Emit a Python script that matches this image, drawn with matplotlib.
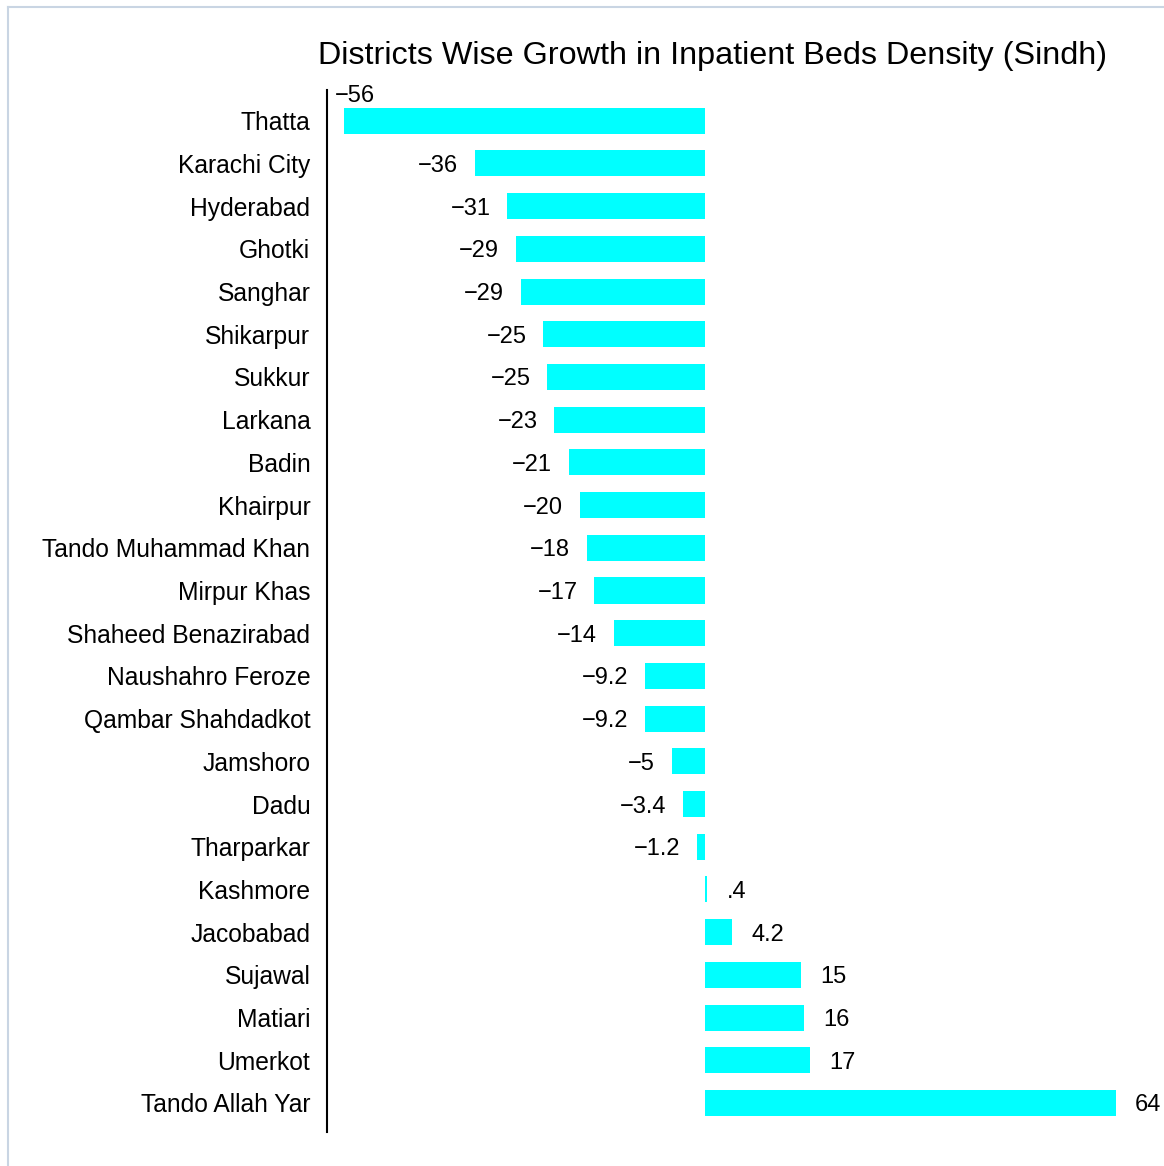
import matplotlib
matplotlib.use("Agg")
import matplotlib.pyplot as plt
from matplotlib.lines import Line2D

districts = ["Thatta", "Karachi City", "Hyderabad", "Ghotki", "Sanghar", "Shikarpur",
             "Sukkur", "Larkana", "Badin", "Khairpur", "Tando Muhammad Khan",
             "Mirpur Khas", "Shaheed Benazirabad", "Naushahro Feroze",
             "Qambar Shahdadkot", "Jamshoro", "Dadu", "Tharparkar", "Kashmore",
             "Jacobabad", "Sujawal", "Matiari", "Umerkot", "Tando Allah Yar"]
growth = [-56.0, -35.7, -30.6, -29.3, -28.5, -25.0, -24.4, -23.3, -21.1, -19.4,
          -18.3, -17.1, -14.1, -9.2, -9.2, -5.1, -3.4, -1.2, 0.4, 4.2, 14.9,
          15.4, 16.4, 63.8]
value_labels = ["\u221256", "\u221236", "\u221231", "\u221229", "\u221229", "\u221225",
                "\u221225", "\u221223", "\u221221", "\u221220", "\u221218", "\u221217",
                "\u221214", "\u22129.2", "\u22129.2", "\u22125", "\u22123.4", "\u22121.2",
                ".4", "4.2", "15", "16", "17", "64"]
title = "Districts Wise Growth in Inpatient Beds Density (Sindh)"

plt.rcParams['font.family'] = ['Liberation Sans', 'DejaVu Sans']

W, H = 1164, 1166
fig = plt.figure(figsize=(W / 100, H / 100), dpi=100)
ax = fig.add_axes([327 / W, 1 - 1132 / H, (1162 - 327) / W, (1132 - 90) / H])

ypos = list(range(len(districts)))
ax.barh(ypos, growth, height=0.61, color="#00ffff", edgecolor="none")

xmin, xmax = -58.6, 71.0
ax.set_xlim(xmin, xmax)
ax.set_ylim(23.68, -0.72)

for y, v, lab in zip(ypos, growth, value_labels):
    if v < 0:
        if v < -50:
            ax.annotate(lab, xy=(xmin, y - 0.44), xytext=(6, 0), textcoords="offset points",
                        ha="left", va="baseline", fontsize=17, annotation_clip=False)
        else:
            ax.annotate(lab, xy=(v, y), xytext=(-12, 0), textcoords="offset points",
                        ha="right", va="center_baseline", fontsize=17, annotation_clip=False)
    else:
        ax.annotate(lab, xy=(v, y), xytext=(14, 0), textcoords="offset points",
                    ha="left", va="center_baseline", fontsize=17, annotation_clip=False)

ax.set_yticks(ypos)
ax.set_yticklabels(districts, fontsize=17.7)
ax.tick_params(axis="y", length=0, pad=12)
ax.set_xticks([])
for s in ["top", "right", "bottom"]:
    ax.spines[s].set_visible(False)
ax.spines["left"].set_linewidth(1.5)
ax.spines["left"].set_color("black")
ax.patch.set_visible(False)

fig.text(713 / W, 1 - 56 / H, title, ha="center", va="center", fontsize=23.3)

bc = "#c9d5e3"
fig.add_artist(Line2D([7.5 / W, 7.5 / W], [0, 1 - 6.5 / H], transform=fig.transFigure,
                      color=bc, lw=1.5))
fig.add_artist(Line2D([7.5 / W, 1], [1 - 6.5 / H, 1 - 6.5 / H], transform=fig.transFigure,
                      color=bc, lw=1.5))

fig.savefig("out.png", dpi=100, facecolor="white")
